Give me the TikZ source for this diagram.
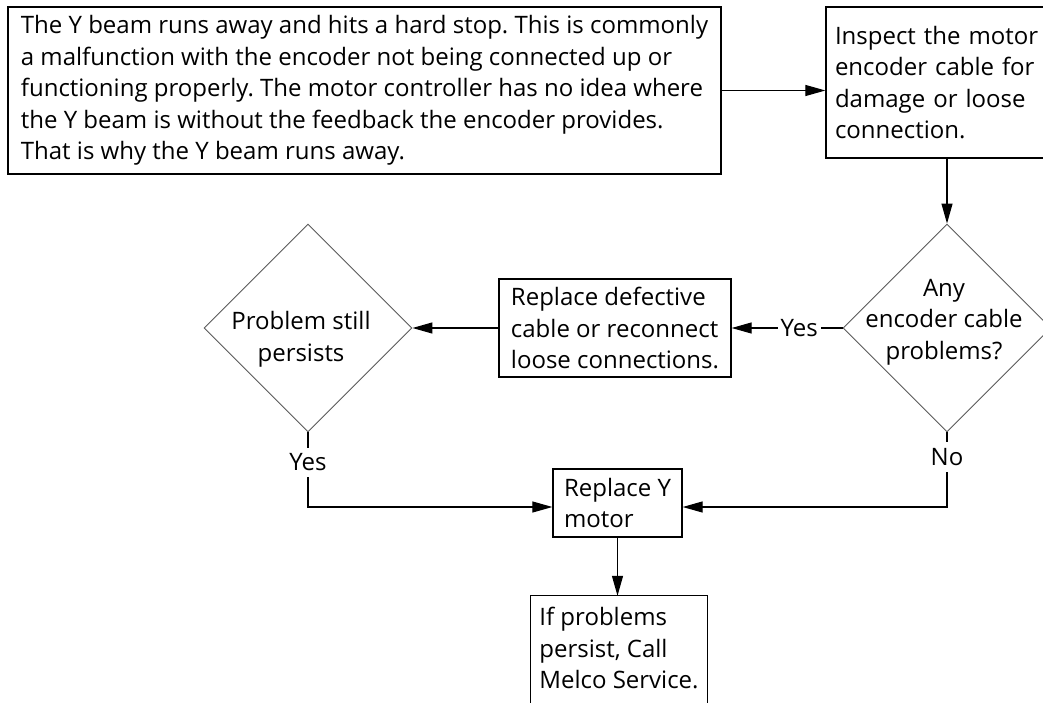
\documentclass[tikz,border=0pt]{standalone}
\usepackage{fontspec}
\setmainfont{Open Sans}
\frenchspacing
\usetikzlibrary{arrows.meta,shapes.geometric}
\begin{document}
\begin{tikzpicture}[x=1pt,y=-1pt,
  every node/.style={font=\fontsize{24}{31.6}\selectfont},
  box/.style={draw, line width=1.3pt, align=left, inner sep=0pt},
  decision/.style={draw=black!65, line width=0.9pt, shape=diamond,
    minimum width=208pt, minimum height=208pt, inner sep=0pt},
  link/.style={line width=1.2pt, -{Triangle[length=20pt,width=11pt]}},
  lbl/.style={fill=white, inner xsep=3pt, inner ysep=6pt}
]
\useasboundingbox (0,0) rectangle (1043,703);

% process boxes
\node[box, minimum width=713pt, minimum height=167pt] (A) at (364.5,90.5)
  {The Y beam runs away and hits a hard stop. This is commonly\\
   a malfunction with the encoder not being connected up or\\
   functioning properly. The motor controller has no idea where\\
   the Y beam is without the feedback the encoder provides.\\
   That is why the Y beam runs away.};
\node[box, text width=216pt, inner xsep=9pt, minimum height=151pt] (B) at (943,82.5)
  {Inspect the motor\\ encoder cable for\\ damage or loose\\ connection.};
\node[box, minimum width=232pt, minimum height=98pt] (M) at (615,328)
  {Replace defective\\ cable or reconnect\\ loose connections.};
\node[box, minimum width=129pt, minimum height=68pt] (R) at (617.5,503)
  {Replace Y\\ motor};
\node[align=left, inner sep=0pt, minimum width=176pt, minimum height=104pt] (F) at (619,648)
  {If problems\\ persist, Call\\ Melco Service.};
\draw[line width=1.3pt] ([yshift=-30pt]F.south west) -- (F.north west) -- (F.north east) -- ([yshift=-30pt]F.south east);

% decisions
\node[decision] (D1) at (947,328) {};
\node[align=center] (D1t) at (944,322) {Any\\ encoder cable\\ problems?};
\node[decision] (D2) at (308,328) {};
\node[align=center] (D2t) at (301,339) {Problem still\\ persists};

% connectors
\coordinate (Rw) at ([yshift=-4pt]R.west);
\coordinate (Re) at ([yshift=-4pt]R.east);
\draw[link] (A.east) -- (A.east -| B.west);
\draw[link] (D1.north |- B.south) -- (D1.north);
\draw[link] (D1.west) -- node[lbl, pos=0.39] {Yes} (D1.west -| M.east);
\draw[link] (M.west) -- (D2.east);
\draw[link] (D1.south) -- node[lbl, pos=0.33] {No} (D1.south |- Re) -- (Re);
\draw[link] (D2.south) -- node[lbl, pos=0.4] {Yes} (D2.south |- Rw) -- (Rw);
\draw[link] (R.south) -- (R.south |- F.north);
\end{tikzpicture}
\end{document}
